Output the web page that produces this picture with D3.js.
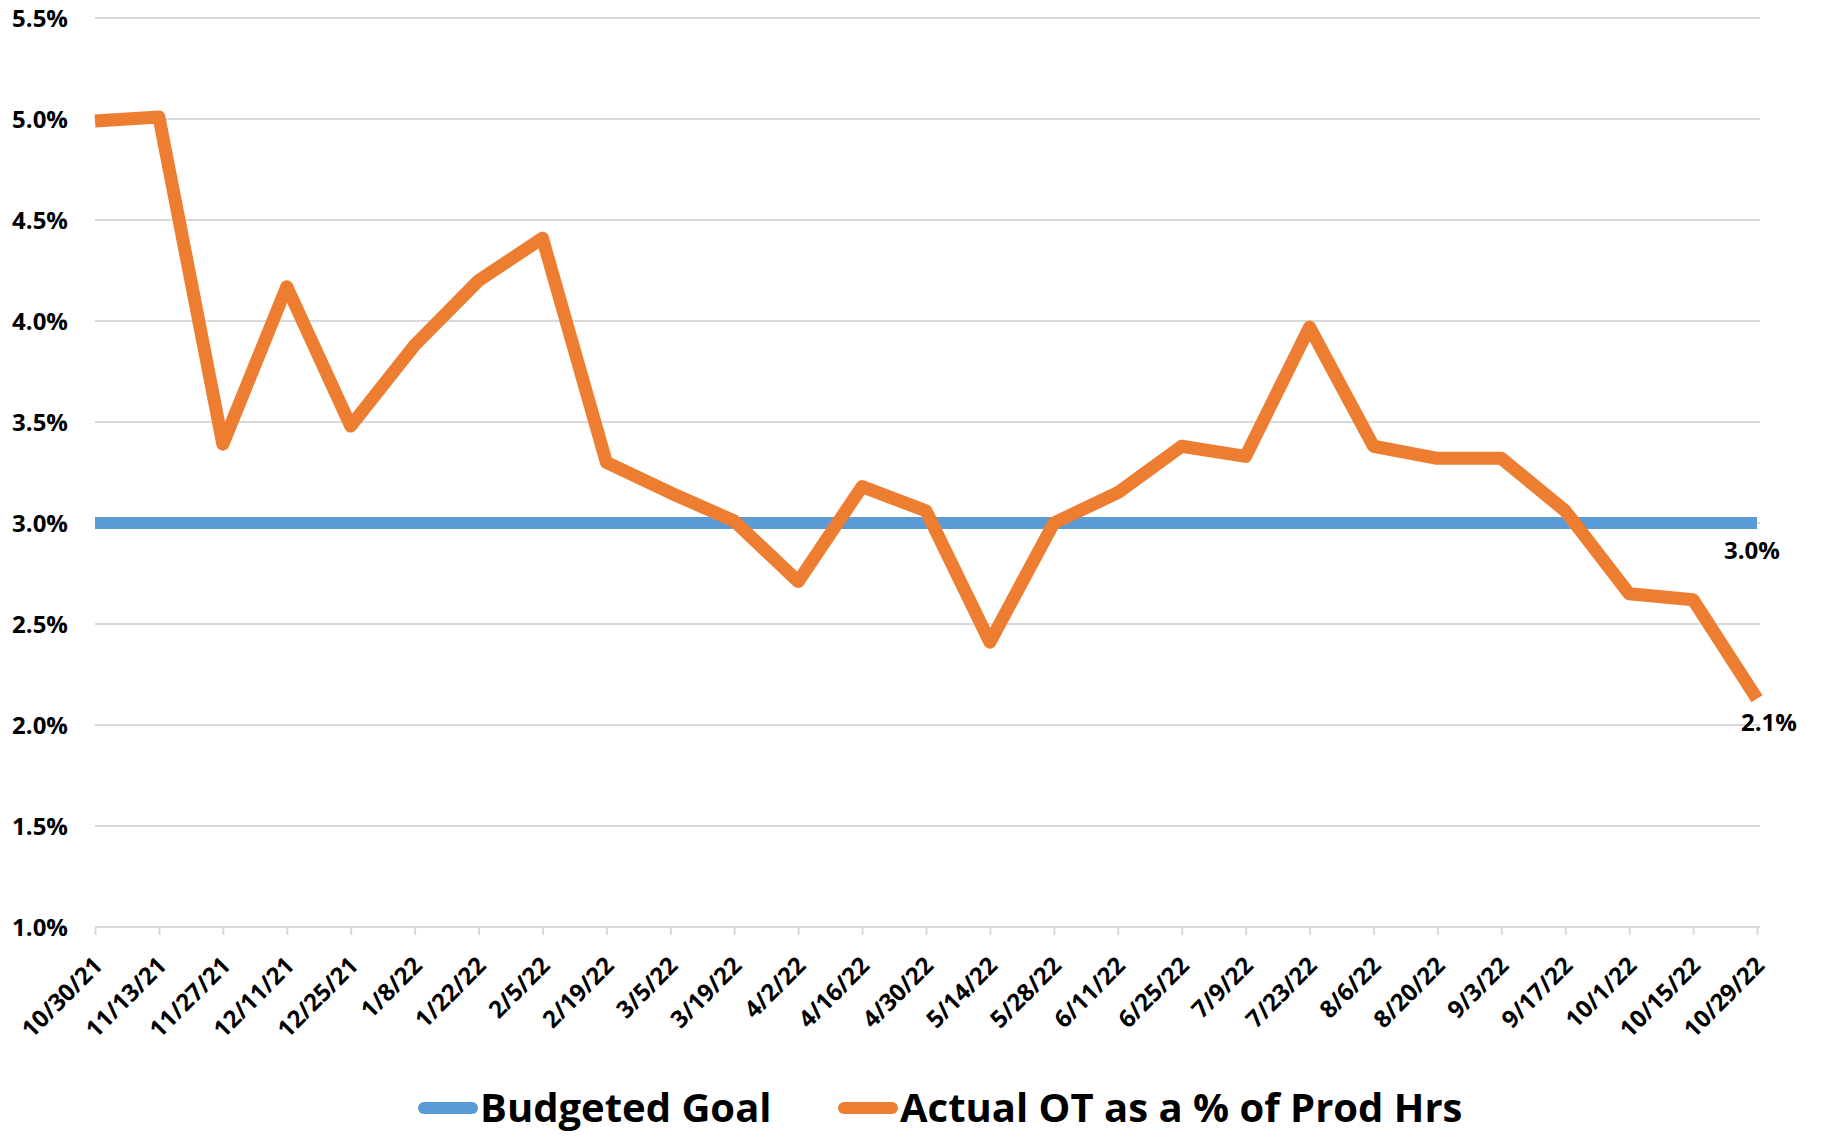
<!DOCTYPE html>
<html>
<head>
<meta charset="utf-8">
<script src="https://cdn.jsdelivr.net/npm/d3@7"></script>
<style>
  body { margin: 0; background: #fff; }
  svg { display: block; }
  text { font-family: "Open Sans", "Liberation Sans", sans-serif; font-weight: 700; fill: #000; }
</style>
</head>
<body>
<svg id="chart"></svg>
<script>
// Daten
var dates = ["10/30/21", "11/13/21", "11/27/21", "12/11/21", "12/25/21", "1/8/22", "1/22/22",
  "2/5/22", "2/19/22", "3/5/22", "3/19/22", "4/2/22", "4/16/22", "4/30/22", "5/14/22",
  "5/28/22", "6/11/22", "6/25/22", "7/9/22", "7/23/22", "8/6/22", "8/20/22", "9/3/22",
  "9/17/22", "10/1/22", "10/15/22", "10/29/22"];
var actualOT = [4.99, 5.01, 3.39, 4.17, 3.48, 3.88, 4.20, 4.41, 3.30, 3.15, 3.01, 2.71, 3.18,
  3.06, 2.41, 3.00, 3.15, 3.38, 3.33, 3.97, 3.38, 3.32, 3.32, 3.06, 2.65, 2.62, 2.13];
var budgetGoal = dates.map(function () { return 3.0; });
var yTicks = [1.0, 1.5, 2.0, 2.5, 3.0, 3.5, 4.0, 4.5, 5.0, 5.5];
var seriesNames = ["Budgeted Goal", "Actual OT as a % of Prod Hrs"];

var width = 1822, height = 1137;
var blue = "#5B9BD5", orange = "#ED7D31", grid = "#D9D9D9";

var svg = d3.select("#chart")
  .attr("width", width)
  .attr("height", height);

var x = d3.scalePoint()
  .domain(dates)
  .range([95, 1757]);

var y = d3.scaleLinear()
  .domain([1.0, 5.5])
  .range([927, 18]);

var fmt = function (v) { return v.toFixed(1) + "%"; };

// Gitterlinien
svg.append("g")
  .selectAll("line")
  .data(yTicks)
  .enter()
  .append("line")
  .attr("x1", 95)
  .attr("x2", 1760)
  .attr("y1", function (d) { return y(d); })
  .attr("y2", function (d) { return y(d); })
  .attr("stroke", grid)
  .attr("stroke-width", 2);

// y-Achse Beschriftung
var yAxis = svg.append("g")
  .attr("transform", "translate(76,0)")
  .call(d3.axisLeft(y).tickValues(yTicks).tickFormat(fmt).tickSize(0).tickPadding(8));
yAxis.select(".domain").remove();
yAxis.selectAll("text")
  .attr("font-size", 24)
  .attr("dy", "0.36em");

// x-Achse
var xAxis = svg.append("g")
  .attr("transform", "translate(0," + y(1.0) + ")")
  .call(d3.axisBottom(x).tickSize(8).tickFormat(""));
xAxis.select(".domain")
  .attr("d", "M95,0H1760")
  .attr("stroke", grid)
  .attr("stroke-width", 2);
xAxis.selectAll(".tick line")
  .attr("stroke", grid)
  .attr("stroke-width", 2);

svg.append("g")
  .selectAll("text")
  .data(dates)
  .enter()
  .append("text")
  .attr("transform", function (d) { return "translate(" + (x(d) + 9) + ",967) rotate(-45)"; })
  .attr("text-anchor", "end")
  .attr("font-size", 24)
  .text(function (d) { return d; });

// Linien
var line = d3.line()
  .x(function (d, i) { return x(dates[i]); })
  .y(function (d) { return y(d); });

svg.append("path")
  .datum(budgetGoal)
  .attr("d", line)
  .attr("fill", "none")
  .attr("stroke", blue)
  .attr("stroke-width", 12)
  .attr("stroke-linecap", "butt");

svg.append("path")
  .datum(actualOT)
  .attr("d", line)
  .attr("fill", "none")
  .attr("stroke", orange)
  .attr("stroke-width", 13)
  .attr("stroke-linejoin", "round")
  .attr("stroke-linecap", "butt");

// Datenbeschriftungen am Ende
var last = dates.length - 1;
svg.append("text")
  .attr("x", x(dates[last]) - 5)
  .attr("y", y(budgetGoal[last]) + 36)
  .attr("text-anchor", "middle")
  .attr("font-size", 24)
  .text(fmt(budgetGoal[last]));

svg.append("text")
  .attr("x", x(dates[last]) + 12)
  .attr("y", y(actualOT[last]) + 32)
  .attr("text-anchor", "middle")
  .attr("font-size", 24)
  .text(fmt(Math.round(actualOT[last] * 10) / 10));

// Legende
var legend = svg.append("g");
var legendItems = [
  { name: seriesNames[0], color: blue, x: 418 },
  { name: seriesNames[1], color: orange, x: 838 }
];
legendItems.forEach(function (it) {
  legend.append("line")
    .attr("x1", it.x + 6)
    .attr("x2", it.x + 54)
    .attr("y1", 1108)
    .attr("y2", 1108)
    .attr("stroke", it.color)
    .attr("stroke-width", 12)
    .attr("stroke-linecap", "round");
  legend.append("text")
    .attr("x", it.x + 62)
    .attr("y", 1122)
    .attr("font-size", 40)
    .text(it.name);
});
</script>
</body>
</html>
